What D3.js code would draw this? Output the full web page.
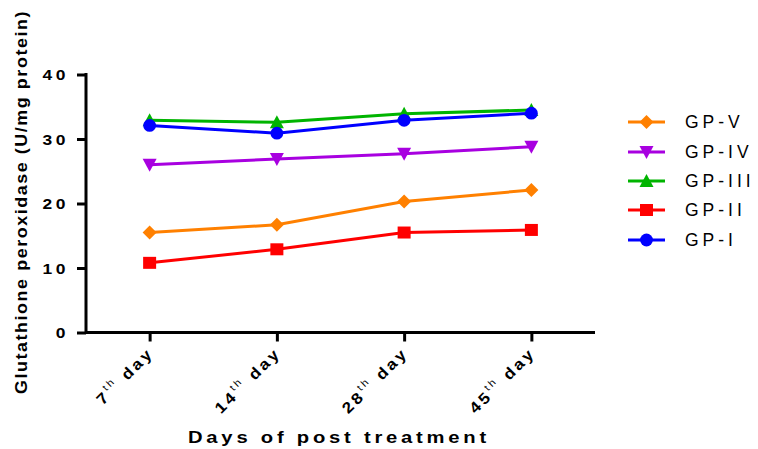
<!DOCTYPE html>
<html>
<head>
<meta charset="utf-8">
<script src="https://cdn.jsdelivr.net/npm/d3@7/dist/d3.min.js"></script>
<style>
  body { margin: 0; background: #fff; }
  svg { display: block; font-family: "Liberation Sans", Arial, sans-serif; }
</style>
</head>
<body>
<svg id="chart" width="758" height="449"></svg>
<script>
// Sampling days
const days = ["7", "14", "28", "45"];
const dayOrdinals = ["th", "th", "th", "th"];
const yTicks = [0, 10, 20, 30, 40];

// Glutathione peroxidase activity (U/mg protein) per group
const gpV   = [15.5, 16.7, 20.3, 22.1];
const gpIV  = [26.0, 26.9, 27.7, 28.8];
const gpIII = [32.9, 32.6, 33.9, 34.5];
const gpII  = [10.8, 12.9, 15.5, 15.9];
const gpI   = [32.1, 30.9, 32.9, 34.0];

const seriesNames  = ["GP-V", "GP-IV", "GP-III", "GP-II", "GP-I"];
const seriesValues = [gpV, gpIV, gpIII, gpII, gpI];
const seriesColors = ["#FF8000", "#A800E0", "#00B400", "#FF0000", "#0000FF"];
const seriesShapes = ["diamond", "down", "up", "square", "circle"];

const svg = d3.select("#chart");

const x = d3.scalePoint().domain(days).range([86, 595]).padding(0.5);
const y = d3.scaleLinear().domain([0, 40]).range([332.5, 74.5]);

// Wide bold lettering: stretch glyphs horizontally
const WIDE = 1.2;

// Marker outlines, sized in pixels
const markers = {
  diamond: { draw(ctx) { const r = 7; ctx.moveTo(0, -r); ctx.lineTo(r, 0); ctx.lineTo(0, r); ctx.lineTo(-r, 0); ctx.closePath(); } },
  down:    { draw(ctx) { ctx.moveTo(-7, -6); ctx.lineTo(7, -6); ctx.lineTo(0, 7); ctx.closePath(); } },
  up:      { draw(ctx) { ctx.moveTo(-7, 6); ctx.lineTo(7, 6); ctx.lineTo(0, -7); ctx.closePath(); } },
  square:  { draw(ctx) { ctx.rect(-6.5, -6, 13, 12); } },
  circle:  { draw(ctx) { ctx.moveTo(6.4, 0); ctx.arc(0, 0, 6.4, 0, 2 * Math.PI); } }
};
const markerPath = s => d3.symbol().type(markers[s])();

// Axes
const yAxis = d3.axisLeft(y).tickValues(yTicks).tickSize(9).tickSizeOuter(0);
const gy = svg.append("g").attr("transform", "translate(86,0)").call(yAxis);
gy.select(".domain").attr("stroke", "#000").attr("stroke-width", 3).attr("d", "M0," + (y(0) + 1.5) + "V" + (y(40) - 1.5));
gy.selectAll(".tick line").attr("stroke", "#000").attr("stroke-width", 3);
gy.selectAll(".tick text")
  .attr("x", 0).attr("dy", "0.36em")
  .attr("transform", "translate(-17,0) scale(" + WIDE + ",1)")
  .attr("font-size", 14.5).attr("font-weight", "bold").attr("fill", "#000")
  .attr("letter-spacing", "3px");

const xAxis = d3.axisBottom(x).tickSize(9).tickSizeOuter(0).tickFormat("");
const gx = svg.append("g").attr("transform", "translate(0," + y(0) + ")").call(xAxis);
gx.select(".domain").attr("stroke", "#000").attr("stroke-width", 3).attr("d", "M86,0H595");
gx.selectAll(".tick line").attr("stroke", "#000").attr("stroke-width", 3);

// Rotated day labels with ordinal superscript
days.forEach((d, i) => {
  const t = svg.append("text")
    .attr("transform", "translate(" + (x(d) + 1) + "," + 350 + ") rotate(-45) scale(1.12,1)")
    .attr("text-anchor", "end")
    .attr("font-size", 15.5).attr("font-weight", "bold").attr("fill", "#000")
    .attr("letter-spacing", "2.5px")
    .attr("dy", "0.35em");
  t.append("tspan").text(d);
  t.append("tspan").attr("font-size", 10).attr("font-weight", "normal").attr("dy", "-0.75em").text(dayOrdinals[i]);
  t.append("tspan").attr("dy", "0.5em").text(" day");
});

// Axis titles
svg.append("text")
  .attr("x", 339).attr("y", 443).attr("text-anchor", "middle")
  .attr("font-size", 16).attr("font-weight", "bold").attr("letter-spacing", "3px")
  .attr("textLength", 302).attr("lengthAdjust", "spacingAndGlyphs")
  .text("Days of post treatment");

svg.append("text")
  .attr("transform", "translate(27,202) rotate(-90)").attr("text-anchor", "middle")
  .attr("font-size", 17).attr("font-weight", "bold").attr("letter-spacing", "1.5px")
  .attr("textLength", 384).attr("lengthAdjust", "spacingAndGlyphs")
  .text("Glutathione peroxidase (U/mg protein)");

// Series lines and markers
const line = d3.line().x((v, i) => x(days[i])).y(v => y(v));
seriesValues.forEach((vals, si) => {
  const g = svg.append("g");
  g.append("path").datum(vals).attr("d", line)
    .attr("fill", "none").attr("stroke", seriesColors[si]).attr("stroke-width", 3);
  g.selectAll("path.m").data(vals).join("path").attr("class", "m")
    .attr("transform", (v, i) => "translate(" + x(days[i]) + "," + y(v) + ")")
    .attr("d", markerPath(seriesShapes[si]))
    .attr("fill", seriesColors[si]);
});

// Legend
const legendY = [122, 152, 181, 210, 240];
seriesNames.forEach((name, si) => {
  const g = svg.append("g").attr("transform", "translate(0," + legendY[si] + ")");
  g.append("line").attr("x1", 628).attr("x2", 665).attr("y1", 0).attr("y2", 0)
    .attr("stroke", seriesColors[si]).attr("stroke-width", 3);
  g.append("path").attr("transform", "translate(646.5,0)")
    .attr("d", markerPath(seriesShapes[si]))
    .attr("fill", seriesColors[si]);
  g.append("text").attr("x", 685).attr("y", 0).attr("dy", "0.36em")
    .attr("font-size", 17.5).attr("letter-spacing", "4px").attr("fill", "#000")
    .text(name);
});
</script>
</body>
</html>
